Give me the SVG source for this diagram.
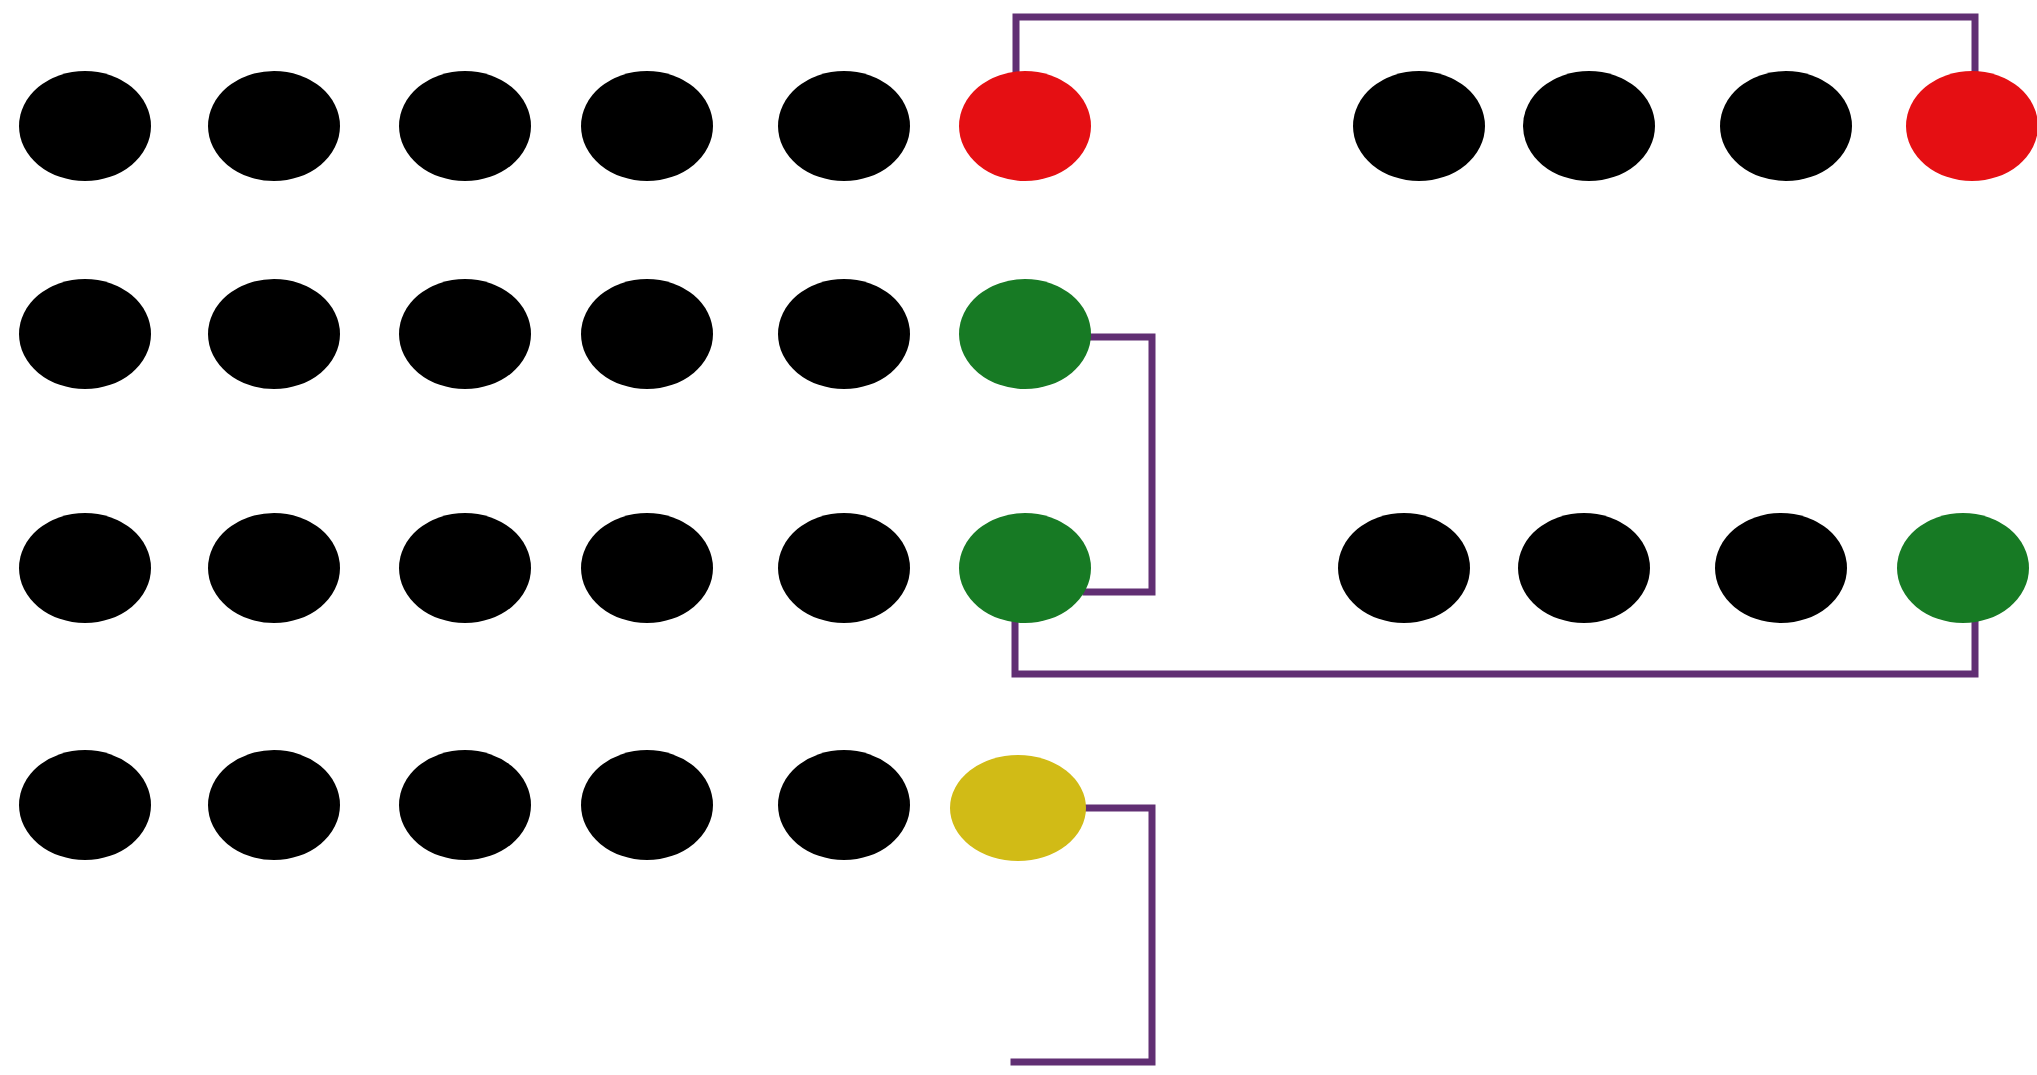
<svg xmlns="http://www.w3.org/2000/svg" width="2037" height="1075" viewBox="0 0 2037 1075">
<style>
.n{fill:#000}
.r{fill:#e50f13}
.g{fill:#177a24}
.y{fill:#d1bb16}
.c{fill:none;stroke:#612f73;stroke-width:7;stroke-linejoin:miter;stroke-linecap:square}
</style>
<rect width="2037" height="1075" fill="#fff"/>
<g id="connectors">
<path class="c" d="M1016,71 V17 H1975 V71"/>
<path class="c" d="M1088,337 H1152 V592 H1086"/>
<path class="c" d="M1015,623 V674 H1975 V623"/>
<path class="c" d="M1084,808 H1152 V1062 H1014"/>
</g>
<g id="row1">
<ellipse id="n1_1" class="n" cx="85" cy="126" rx="66" ry="55"/>
<ellipse id="n1_2" class="n" cx="274" cy="126" rx="66" ry="55"/>
<ellipse id="n1_3" class="n" cx="465" cy="126" rx="66" ry="55"/>
<ellipse id="n1_4" class="n" cx="647" cy="126" rx="66" ry="55"/>
<ellipse id="n1_5" class="n" cx="844" cy="126" rx="66" ry="55"/>
<ellipse id="n1_6" class="r" cx="1025" cy="126" rx="66" ry="55"/>
<ellipse id="n1_7" class="n" cx="1419" cy="126" rx="66" ry="55"/>
<ellipse id="n1_8" class="n" cx="1589" cy="126" rx="66" ry="55"/>
<ellipse id="n1_9" class="n" cx="1786" cy="126" rx="66" ry="55"/>
<ellipse id="n1_10" class="r" cx="1972" cy="126" rx="66" ry="55"/>
</g>
<g id="row2">
<ellipse id="n2_1" class="n" cx="85" cy="334" rx="66" ry="55"/>
<ellipse id="n2_2" class="n" cx="274" cy="334" rx="66" ry="55"/>
<ellipse id="n2_3" class="n" cx="465" cy="334" rx="66" ry="55"/>
<ellipse id="n2_4" class="n" cx="647" cy="334" rx="66" ry="55"/>
<ellipse id="n2_5" class="n" cx="844" cy="334" rx="66" ry="55"/>
<ellipse id="n2_6" class="g" cx="1025" cy="334" rx="66" ry="55"/>
</g>
<g id="row3">
<ellipse id="n3_1" class="n" cx="85" cy="568" rx="66" ry="55"/>
<ellipse id="n3_2" class="n" cx="274" cy="568" rx="66" ry="55"/>
<ellipse id="n3_3" class="n" cx="465" cy="568" rx="66" ry="55"/>
<ellipse id="n3_4" class="n" cx="647" cy="568" rx="66" ry="55"/>
<ellipse id="n3_5" class="n" cx="844" cy="568" rx="66" ry="55"/>
<ellipse id="n3_6" class="g" cx="1025" cy="568" rx="66" ry="55"/>
<ellipse id="n3_7" class="n" cx="1404" cy="568" rx="66" ry="55"/>
<ellipse id="n3_8" class="n" cx="1584" cy="568" rx="66" ry="55"/>
<ellipse id="n3_9" class="n" cx="1781" cy="568" rx="66" ry="55"/>
<ellipse id="n3_10" class="g" cx="1963" cy="568" rx="66" ry="55"/>
</g>
<g id="row4">
<ellipse id="n4_1" class="n" cx="85" cy="805" rx="66" ry="55"/>
<ellipse id="n4_2" class="n" cx="274" cy="805" rx="66" ry="55"/>
<ellipse id="n4_3" class="n" cx="465" cy="805" rx="66" ry="55"/>
<ellipse id="n4_4" class="n" cx="647" cy="805" rx="66" ry="55"/>
<ellipse id="n4_5" class="n" cx="844" cy="805" rx="66" ry="55"/>
<ellipse id="n4_6" class="y" cx="1018" cy="808" rx="68" ry="53"/>
</g>
</svg>
